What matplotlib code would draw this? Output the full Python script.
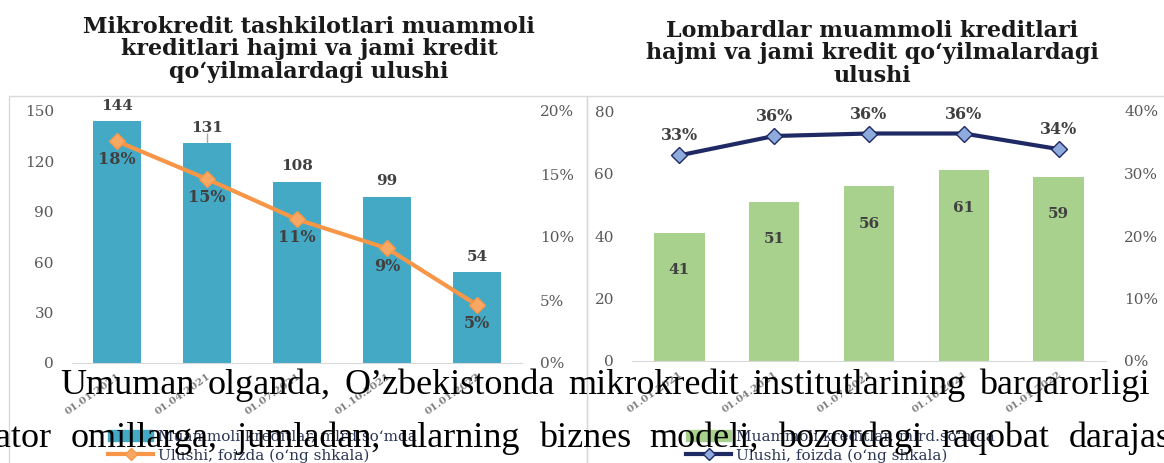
import numpy as np
import matplotlib
matplotlib.use('Agg')
import matplotlib.pyplot as plt
from matplotlib.patches import Rectangle, Patch
from matplotlib.lines import Line2D
from matplotlib.ticker import FuncFormatter
from matplotlib.transforms import ScaledTranslation

# data
dates = ['01.01.2021', '01.04.2021', '01.07.2021', '01.10.2021', '01.01.2022']

mk_loans = [144, 131, 108, 99, 54]
mk_share = [17.6, 14.6, 11.4, 9.1, 4.6]
mk_share_lbl = ['18%', '15%', '11%', '9%', '5%']

lb_loans = [41, 51, 56, 61, 59]
lb_share = [32.9, 36.0, 36.4, 36.4, 33.9]
lb_share_lbl = ['33%', '36%', '36%', '36%', '34%']

mk_title = "Mikrokredit tashkilotlari muammoli\nkreditlari hajmi va jami kredit\nqo\u2018yilmalardagi ulushi"
lb_title = "Lombardlar muammoli kreditlari\nhajmi va jami kredit qo\u2018yilmalardagi\nulushi"
leg_bar = "Muammoli kreditlar, mlrd.so\u2018mda"
leg_line = "Ulushi, foizda (o\u2018ng shkala)"

para1 = ['Umuman', 'olganda,', 'O\u2019zbekistonda', 'mikrokredit', 'institutlarining', 'barqarorligi']
para2 = ['qator', 'omillarga,', 'jumladan,', 'ularning', 'biznes', 'modeli,', 'bozordagi', 'raqobat', 'darajasi']

plt.rcParams['font.family'] = ['DejaVu Serif']

W, H = 1164, 463
fig = plt.figure(figsize=(W / 100, H / 100), dpi=100)


def fx(x):
    return x / W


def fy(y):
    return 1 - y / H


GRAY = '#595959'
LBL = '#404040'


def chart(box, loans, share, share_lbl, bar_c, line_c, mk_fc, mk_ec,
          ymax, ystep, pmax, pstep, bar_lbl_inside, share_above):
    ax = fig.add_axes(box)
    x = np.arange(len(dates))
    ax.bar(x, loans, width=0.53, color=bar_c, zorder=2)
    ax.set_xlim(-0.5, len(dates) - 0.5)
    ax.set_ylim(0, ymax)
    ax.set_yticks(np.arange(0, ymax + 1, ystep))
    ax.set_xticks(x)
    ax.set_xticklabels(dates, rotation=35, ha='right', va='top',
                       rotation_mode='anchor', fontsize=7.5,
                       fontweight='bold', color='#808080')
    shift = ScaledTranslation(-0.13, 0, fig.dpi_scale_trans)
    for lab in ax.get_xticklabels():
        lab.set_transform(lab.get_transform() + shift)
    ax.tick_params(axis='x', length=0, pad=6)
    ax.tick_params(axis='y', length=0, pad=13, labelsize=11, labelcolor=GRAY)
    for s in ['top', 'left', 'right']:
        ax.spines[s].set_visible(False)
    ax.spines['bottom'].set_color('#D9D9D9')

    for i, v in enumerate(loans):
        if bar_lbl_inside:
            ax.text(i, v - 12, str(v), ha='center', va='center',
                    fontsize=11, fontweight='bold', color=LBL, zorder=4)
        else:
            ax.annotate(str(v), (i, v), xytext=(0, 11), textcoords='offset points',
                        ha='center', va='center', fontsize=11,
                        fontweight='bold', color=LBL, zorder=4)

    ax2 = ax.twinx()
    ax2.plot(x, share, color=line_c, lw=3, marker='D', ms=8,
             mfc=mk_fc, mec=mk_ec, mew=1, zorder=3)
    ax2.set_ylim(0, pmax)
    ax2.set_yticks(np.arange(0, pmax + 1, pstep))
    ax2.yaxis.set_major_formatter(FuncFormatter(lambda v, p: f'{v:.0f}%'))
    ax2.tick_params(axis='y', length=0, pad=13, labelsize=11, labelcolor=GRAY)
    for s in ax2.spines.values():
        s.set_visible(False)
    off = 14 if share_above else -13
    for i, (v, t) in enumerate(zip(share, share_lbl)):
        ax2.annotate(t, (i, v), xytext=(0, off), textcoords='offset points',
                     ha='center', va='center', fontsize=11.5,
                     fontweight='bold', color=LBL, zorder=4)
    return ax, ax2


# chart frames
fig.add_artist(Rectangle((fx(9), fy(475)), (587 - 9) / W, (475 - 96) / H,
                         transform=fig.transFigure, fill=False,
                         ec='#D9D9D9', lw=1))
fig.add_artist(Rectangle((fx(587), fy(475)), (1175 - 587) / W, (475 - 96) / H,
                         transform=fig.transFigure, fill=False,
                         ec='#D9D9D9', lw=1))

ax_l, ax_l2 = chart([fx(72), fy(363), 450 / W, (363 - 111) / H],
                    mk_loans, mk_share, mk_share_lbl,
                    '#43A9C5', '#F79646', '#F8A865', '#F79646',
                    150, 30, 20, 5, False, False)
ax_l.vlines(1, mk_loans[1], mk_loans[1] + 6, color='#A6A6A6', lw=1)

ax_r, ax_r2 = chart([fx(632), fy(361), 474 / W, (361 - 111) / H],
                    lb_loans, lb_share, lb_share_lbl,
                    '#A9D18E', '#1F2A64', '#8FAADC', '#1F2A64',
                    80, 20, 40, 10, True, True)

# titles
fig.text(fx(309), fy(16), mk_title, ha='center', va='top', fontsize=16,
         fontweight='bold', color='#1A1A1A', linespacing=1.02,
         multialignment='center')
fig.text(fx(872), fy(20), lb_title, ha='center', va='top', fontsize=16,
         fontweight='bold', color='#1A1A1A', linespacing=1.02,
         multialignment='center')

# legends
handles = [Patch(color='#43A9C5'),
           Line2D([], [], color='#F79646', lw=3, marker='D', ms=6,
                  mfc='#F8A865', mec='#F79646')]
fig.legend(handles, [leg_bar, leg_line], loc='upper left',
           bbox_to_anchor=(fx(100), fy(422)), frameon=False, fontsize=11,
           handlelength=3.0, handletextpad=0.3, labelspacing=0.3,
           borderpad=0, labelcolor='#2B3556')
handles = [Patch(color='#A9D18E'),
           Line2D([], [], color='#1F2A64', lw=3, marker='D', ms=6,
                  mfc='#8FAADC', mec='#1F2A64')]
fig.legend(handles, [leg_bar, leg_line], loc='upper left',
           bbox_to_anchor=(fx(678), fy(422)), frameon=False, fontsize=11,
           handlelength=3.0, handletextpad=0.3, labelspacing=0.3,
           borderpad=0, labelcolor='#2B3556')

# paragraph text over the charts (justified lines)
PFONT = dict(family='Liberation Serif', fontsize=26, color='black', zorder=10,
             va='baseline')
renderer = fig.canvas.get_renderer()

words1 = [fig.text(0, fy(394), w, ha='left', **PFONT) for w in para1]
widths1 = [t.get_window_extent(renderer).width for t in words1]
gap1 = (1150 - 60 - sum(widths1)) / (len(words1) - 1)
x = 60
for t, w in zip(words1, widths1):
    t.set_x(fx(x))
    x += w + gap1

words2 = [fig.text(0, fy(447), w, ha='left', **PFONT) for w in para2]
widths2 = [t.get_window_extent(renderer).width for t in words2]
x = 52 - widths2[0]
for t, w in zip(words2, widths2):
    t.set_x(fx(x))
    x += w + 19

fig.savefig('out.png', dpi=100)
